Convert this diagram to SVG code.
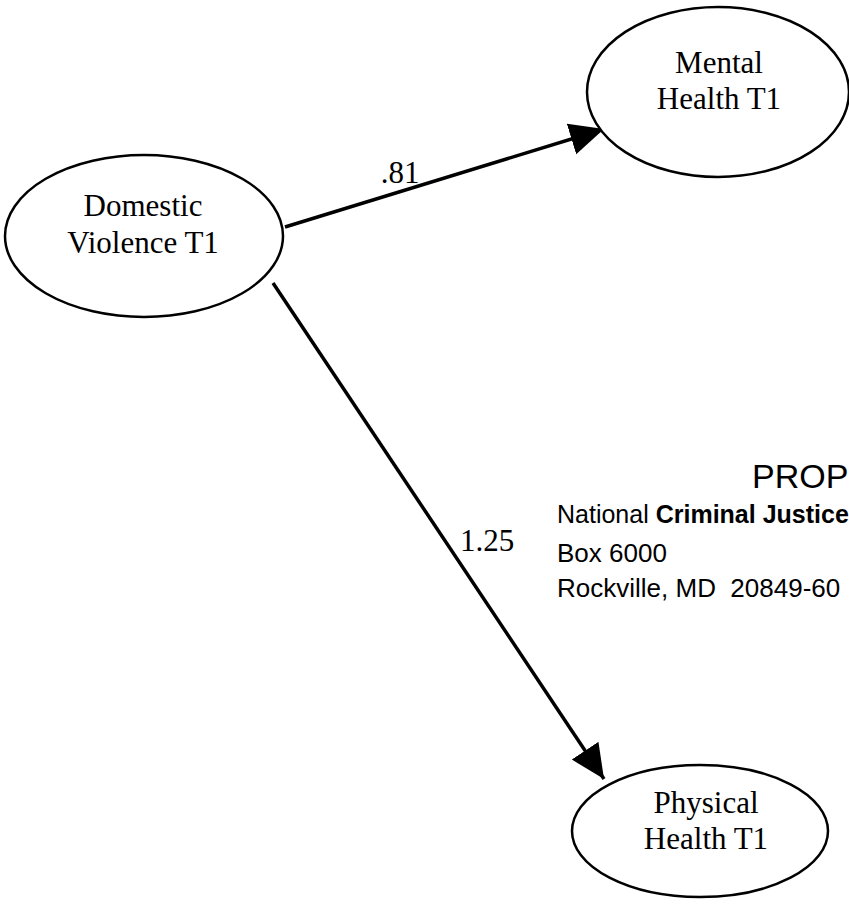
<svg xmlns="http://www.w3.org/2000/svg" width="849" height="907" viewBox="0 0 849 907">
<style>
.node{fill:#fff;stroke:#000;stroke-width:2.5}
.lbl{font-family:"Liberation Serif","Times New Roman",serif;font-size:31px;fill:#000;text-anchor:middle}
.edge{stroke:#000;stroke-width:3.5;fill:none}
.wm{font-family:"Liberation Sans",Arial,sans-serif;fill:#000}
</style>
<defs>
<marker id="ah" markerUnits="userSpaceOnUse" markerWidth="36" markerHeight="34" refX="34" refY="16" orient="auto" viewBox="0 0 36 34">
<path d="M0,0 L34,16 L0,32 Z" fill="#000"/>
</marker>
</defs>
<rect width="849" height="907" fill="#fff"/>
<g id="connectors">
<line class="edge" x1="285" y1="227" x2="604" y2="129" marker-end="url(#ah)"/>
<line class="edge" x1="273" y1="283" x2="604" y2="779" marker-end="url(#ah)"/>
<text class="lbl" x="400" y="183">.81</text>
<text class="lbl" x="487" y="551">1.25</text>
</g>
<g id="domestic">
<ellipse class="node" cx="144" cy="236" rx="139" ry="81"/>
<text class="lbl" x="143" y="216">Domestic</text>
<text class="lbl" x="143" y="253">Violence T1</text>
</g>
<g id="mental">
<ellipse class="node" cx="718" cy="92" rx="131" ry="85"/>
<text class="lbl" x="719" y="73">Mental</text>
<text class="lbl" x="719" y="109">Health T1</text>
</g>
<g id="physical">
<ellipse class="node" cx="700" cy="831" rx="128" ry="66"/>
<text class="lbl" x="706" y="813">Physical</text>
<text class="lbl" x="706" y="849">Health T1</text>
</g>
<g id="watermark">
<text class="wm" x="752" y="488" font-size="34">PROP</text>
<text class="wm" x="557" y="523" font-size="25">National <tspan font-weight="bold">Criminal Justice</tspan></text>
<text class="wm" x="557" y="562" font-size="26">Box 6000</text>
<text class="wm" x="557" y="597" font-size="26" xml:space="preserve">Rockville, MD  20849-60</text>
</g>
</svg>
